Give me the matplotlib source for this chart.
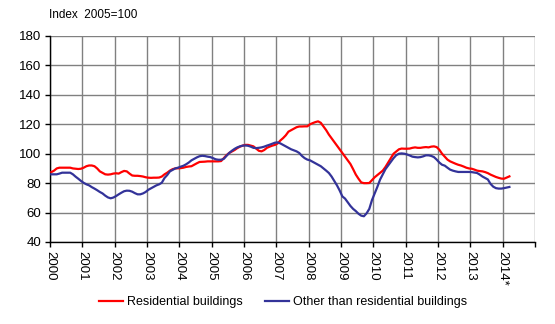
import numpy as np
import matplotlib
matplotlib.use("Agg")
import matplotlib.pyplot as plt

plt.rcParams['font.family'] = ['Liberation Sans', 'DejaVu Sans']

# monthly index values, Jan 2000 .. Mar 2014 (2005=100)
residential = [
    87.5, 88.5, 90.0, 90.5, 90.5, 90.5, 90.5, 90.5, 90.0, 89.8, 89.6, 89.8,   # 2000
    90.5, 91.5, 92.0, 92.0, 91.5, 90.0, 88.0, 87.0, 86.0, 85.8, 86.0, 86.5,   # 2001
    86.7, 86.5, 87.5, 88.3, 88.0, 86.5, 85.2, 85.0, 85.0, 84.8, 84.5, 84.0,   # 2002
    83.7, 83.6, 83.7, 83.7, 83.8, 84.5, 86.0, 87.1, 88.5, 89.5, 90.0, 90.1,   # 2003
    90.2, 90.5, 91.0, 91.3, 91.5, 92.5, 93.5, 94.4, 94.5, 94.6, 94.8, 94.8,   # 2004
    94.8, 94.8, 94.8, 95.0, 97.0, 99.0, 100.5, 101.5, 102.5, 103.8, 104.8, 105.5,  # 2005
    106.0, 106.0, 105.5, 105.0, 103.5, 102.0, 101.6, 102.5, 104.0, 104.8, 105.5, 106.0,  # 2006
    107.0, 109.0, 110.6, 112.5, 115.0, 116.0, 117.0, 118.0, 118.5, 118.5, 118.6, 118.6,  # 2007
    120.0, 120.8, 121.5, 122.0, 121.0, 118.5, 116.0, 113.0, 110.5, 108.0, 105.5, 103.0,  # 2008
    100.5, 98.0, 95.5, 93.0, 89.5, 85.8, 83.0, 80.5, 80.0, 80.0, 80.1, 82.0,   # 2009
    84.0, 85.5, 87.0, 88.5, 91.0, 94.0, 97.0, 100.0, 101.5, 103.0, 103.5, 103.4,  # 2010
    103.4, 103.5, 104.0, 104.3, 104.0, 104.0, 104.3, 104.5, 104.3, 104.8, 105.0, 104.5,  # 2011
    102.7, 100.0, 98.0, 96.0, 94.8, 94.0, 93.2, 92.5, 92.0, 91.3, 90.5, 90.0,  # 2012
    89.8, 89.2, 88.5, 88.2, 88.0, 87.5, 86.8, 85.8, 85.0, 84.2, 83.6, 83.1,   # 2013
    83.0, 83.8, 84.6,                                                         # 2014
]

other = [
    86.0, 86.0, 86.0, 86.5, 87.1, 87.1, 87.1, 87.1, 86.0, 84.4, 83.0, 81.5,   # 2000
    80.2, 79.2, 78.5, 77.3, 76.3, 75.2, 74.0, 73.0, 71.5, 70.3, 69.7, 70.2,   # 2001
    71.2, 72.4, 73.5, 74.5, 74.9, 74.8, 74.2, 73.2, 72.4, 72.4, 73.0, 74.0,   # 2002
    75.5, 76.5, 77.5, 78.5, 79.2, 80.3, 83.5, 85.5, 88.0, 89.0, 90.0, 90.5,   # 2003
    91.2, 91.8, 92.8, 94.0, 95.5, 96.5, 97.5, 98.3, 98.6, 98.4, 98.0, 97.7,   # 2004
    97.0, 96.2, 95.9, 95.9, 96.5, 98.5, 100.5, 102.0, 103.3, 104.3, 105.0, 105.5,  # 2005
    105.6, 105.4, 104.8, 104.0, 103.8, 104.0, 104.3, 104.8, 105.5, 106.1, 106.8, 107.5,  # 2006
    107.7, 107.0, 106.0, 105.0, 104.0, 103.0, 102.3, 101.6, 100.5, 98.5, 97.0, 96.0,  # 2007
    95.5, 94.5, 93.5, 92.5, 91.5, 90.0, 88.5, 86.9, 84.5, 81.5, 78.5, 75.0,   # 2008
    71.0, 69.5, 67.0, 64.5, 62.5, 61.0, 59.2, 57.9, 57.5, 59.5, 62.5, 68.5,   # 2009
    73.0, 77.5, 82.4, 86.0, 89.5, 92.0, 94.5, 97.0, 99.0, 100.0, 100.2, 100.0,  # 2010
    99.5, 98.8, 98.0, 97.7, 97.5, 97.7, 98.2, 98.9, 98.9, 98.5, 97.7, 96.0,   # 2011
    94.0, 92.5, 91.9, 90.5, 89.2, 88.5, 88.0, 87.6, 87.6, 87.6, 87.6, 87.6,   # 2012
    87.5, 87.2, 86.9, 85.8, 84.5, 83.5, 82.5, 79.5, 77.6, 76.6, 76.3, 76.3,   # 2013
    76.6, 77.0, 77.4,                                                         # 2014
]

years = list(range(2000, 2016))
year_labels = [str(y) for y in range(2000, 2014)] + ['2014*', '']

x = 2000 + (np.arange(len(residential)) + 0.5) / 12

fig = plt.figure(figsize=(5.55, 3.24), dpi=100)
ax = fig.add_axes([50 / 555, 1 - 242 / 324, 485 / 555, 206 / 324])

ax.plot(x, residential, color='#FF0000', lw=1.6, label='Residential buildings', zorder=3)
ax.plot(x, other, color='#333399', lw=1.6, label='Other than residential buildings', zorder=3)

ax.set_xlim(2000, 2015)
ax.set_ylim(40, 180)
ax.set_yticks(range(40, 181, 20))
ax.set_xticks(years)
ax.set_xticklabels(year_labels, rotation=270, fontsize=9.5)
ax.tick_params(axis='y', labelsize=9.5, length=3.5, width=1, direction='out', pad=3)
ax.tick_params(axis='x', length=3.5, width=1, direction='out', pad=3)
ax.grid(True, color='#808080', lw=1)
ax.set_axisbelow(True)
for s in ['top', 'right']:
    ax.spines[s].set_visible(False)
for s in ['left', 'bottom']:
    ax.spines[s].set_color('black')
    ax.spines[s].set_linewidth(1)

fig.text(49 / 555, 1 - 15 / 324, 'Index  2005=100', fontsize=8.5, va='center', ha='left')

fig.legend(loc='center', bbox_to_anchor=(283 / 555, 1 - 302 / 324), ncol=2, frameon=False,
           fontsize=9, handlelength=1.9, handletextpad=0.3, columnspacing=1.8)

fig.savefig('out.png', dpi=100)
